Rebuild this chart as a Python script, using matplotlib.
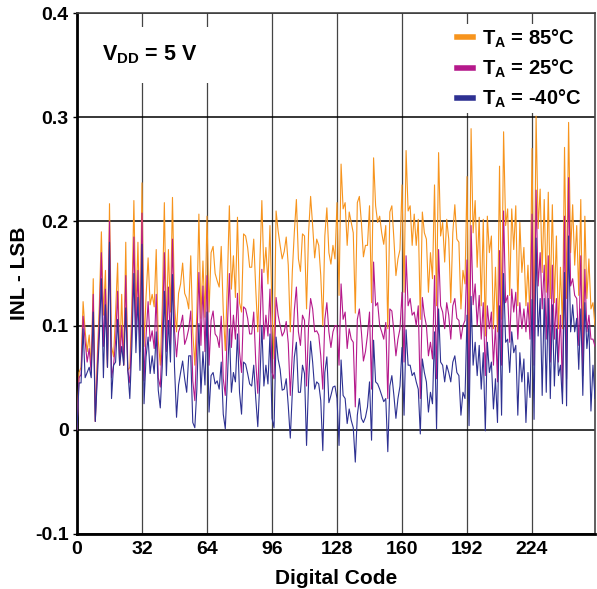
import numpy as np
import matplotlib
matplotlib.use("Agg")
import matplotlib.pyplot as plt
from matplotlib.lines import Line2D

# INL readings in milli-LSB, one value per code (0..255)
inl_85c = [
    0, 55, 60, 123, 95, 75, 91, 60, 145, 8,
    70, 120, 190, 110, 153, 60, 217, 80, 70, 113,
    160, 62, 130, 62, 180, 57, 60, 120, 220, 110,
    180, 90, 237, 80, 128, 165, 120, 130, 118, 173,
    86, 62, 120, 218, 97, 173, 113, 223, 120, 94,
    131, 140, 160, 131, 126, 116, 167, 94, 62, 113,
    207, 107, 162, 108, 205, 113, 170, 176, 150, 143,
    137, 176, 114, 76, 140, 215, 135, 167, 127, 204,
    122, 113, 188, 186, 175, 156, 156, 183, 135, 94,
    159, 220, 151, 175, 140, 196, 113, 68, 210, 191,
    177, 164, 171, 185, 158, 94, 152, 190, 221, 164,
    152, 188, 186, 116, 189, 224, 196, 165, 183, 177,
    148, 100, 186, 213, 170, 159, 177, 164, 218, 129,
    255, 212, 218, 177, 209, 199, 189, 112, 218, 224,
    199, 166, 177, 177, 215, 122, 261, 215, 199, 205,
    189, 178, 196, 97, 209, 215, 183, 148, 164, 173,
    235, 132, 268, 210, 215, 177, 207, 177, 202, 106,
    209, 189, 183, 132, 170, 145, 235, 119, 266, 186,
    199, 161, 202, 183, 122, 189, 216, 183, 180, 116,
    153, 140, 243, 65, 289, 189, 220, 156, 204, 119,
    202, 90, 205, 170, 186, 97, 156, 94, 253, 106,
    286, 196, 212, 129, 212, 173, 215, 119, 199, 151,
    175, 119, 158, 106, 270, 97, 301, 193, 231, 151,
    221, 132, 228, 126, 216, 122, 186, 97, 156, 97,
    271, 126, 295, 170, 216, 158, 196, 129, 221, 74,
    205, 126, 164, 116, 122, 100,
]

inl_25c = [
    0, 50, 53, 109, 85, 65, 78, 55, 130, 8,
    60, 105, 170, 80, 135, 60, 200, 50, 62, 85,
    133, 62, 100, 62, 148, 57, 45, 100, 185, 90,
    153, 75, 208, 47, 90, 123, 85, 95, 78, 130,
    50, 41, 88, 170, 75, 137, 81, 183, 95, 70,
    94, 100, 110, 82, 88, 97, 114, 47, 28, 84,
    151, 81, 138, 75, 148, 62, 105, 114, 92, 89,
    79, 109, 49, 33, 97, 150, 79, 110, 87, 131,
    75, 55, 118, 116, 107, 92, 92, 113, 65, 35,
    94, 154, 87, 110, 90, 135, 55, 49, 127, 110,
    100, 90, 94, 104, 83, 33, 75, 115, 137, 94,
    81, 110, 105, 42, 100, 126, 116, 94, 95, 91,
    71, 39, 106, 122, 94, 79, 94, 100, 100, 62,
    140, 106, 113, 78, 97, 87, 84, 22, 106, 116,
    94, 66, 75, 91, 113, 39, 161, 119, 122, 100,
    94, 87, 103, 30, 116, 114, 94, 71, 87, 97,
    132, 65, 167, 119, 126, 110, 113, 100, 119, 30,
    127, 110, 100, 71, 84, 68, 148, 49, 173, 119,
    113, 97, 122, 110, 87, 119, 126, 107, 105, 87,
    100, 105, 163, 30, 196, 120, 140, 100, 129, 87,
    122, 52, 119, 97, 113, 62, 100, 46, 172, 62,
    210, 122, 129, 84, 135, 113, 132, 87, 122, 97,
    116, 94, 122, 87, 207, 62, 230, 138, 170, 116,
    158, 87, 167, 65, 158, 87, 126, 65, 110, 36,
    205, 49, 242, 138, 145, 129, 126, 81, 167, 52,
    154, 94, 110, 87, 87, 80,
]

inl_m40c = [
    0, 45, 45, 97, 50, 55, 60, 50, 113, 8,
    50, 90, 145, 50, 120, 60, 180, 30, 62, 65,
    106, 62, 80, 62, 117, 57, 30, 80, 150, 74,
    127, 57, 178, 25, 70, 89, 54, 71, 54, 94,
    38, 21, 62, 133, 52, 105, 65, 149, 60, 12,
    43, 55, 66, 49, 36, 71, 71, 7, 2, 39,
    102, 35, 75, 43, 113, 17, 52, 55, 44, 47,
    39, 65, 15, 1, 46, 97, 36, 55, 46, 92,
    36, 15, 65, 63, 54, 44, 42, 62, 30, 3,
    46, 100, 42, 62, 44, 92, 11, 2, 89, 68,
    58, 38, 39, 49, 23, -8, 36, 70, 84, 36,
    36, 62, 54, -15, 46, 85, 65, 39, 46, 44,
    28, -20, 55, 70, 26, 33, 41, 42, 30, -15,
    67, 33, 30, 6, 20, 9, 2, -31, 14, 30,
    11, 7, 12, 22, 46, -10, 86, 46, 44, 39,
    33, 27, 30, -21, 42, 52, 33, 11, 30, 42,
    79, 14, 96, 62, 62, 52, 55, 46, 39, -4,
    68, 55, 46, 17, 36, 25, 94, 1, 116, 65,
    62, 46, 62, 55, 46, 65, 71, 55, 52, 14,
    36, 30, 110, 4, 128, 62, 84, 52, 81, 39,
    74, -1, 84, 55, 65, 20, 49, 7, 119, 14,
    150, 84, 87, 55, 94, 74, 81, 14, 74, 46,
    68, 7, 55, 31, 125, 10, 184, 90, 126, 33,
    126, 36, 126, 30, 120, 42, 97, 52, 62, 25,
    151, 23, 186, 94, 120, 94, 107, 58, 116, 33,
    122, 78, 100, 18, 62, 30,
]

series_labels = ["85°C", "25°C", "-40°C"]
x_ticks = [0, 32, 64, 96, 128, 160, 192, 224]
y_ticks = [-0.1, 0, 0.1, 0.2, 0.3, 0.4]
y_tick_labels = ["-0.1", "0", "0.1", "0.2", "0.3", "0.4"]

colors = ["#F7941D", "#B5198B", "#2E3192"]

plt.rcParams["font.family"] = ["Liberation Sans", "DejaVu Sans"]
plt.rcParams["font.weight"] = "bold"
plt.rcParams["mathtext.fontset"] = "custom"
plt.rcParams["mathtext.rm"] = "Liberation Sans:bold"
plt.rcParams["mathtext.it"] = "Liberation Sans:bold"
plt.rcParams["mathtext.bf"] = "Liberation Sans:bold"
plt.rcParams["mathtext.default"] = "rm"

fig = plt.figure(figsize=(5.97, 5.89), dpi=100)
ax = fig.add_axes([77 / 597, 55 / 589, 518 / 597, 521 / 589])

codes = np.arange(len(inl_85c))
for values, color in zip([inl_85c, inl_25c, inl_m40c], colors):
    ax.plot(codes, np.array(values) / 1000.0, color=color, lw=0.8, zorder=3)

ax.set_xlim(0, 255)
ax.set_ylim(-0.1, 0.4)
ax.set_xticks(x_ticks)
ax.set_yticks(y_ticks)
ax.set_yticklabels(y_tick_labels)
ax.tick_params(axis="both", labelsize=14, length=3, width=1, pad=3)
ax.tick_params(axis="x", length=0, pad=5)

# grid: black horizontal, grey vertical
ax.yaxis.grid(True, color="black", lw=1.1, zorder=1)
ax.xaxis.grid(True, color="#444444", lw=0.9, zorder=1)
ax.set_axisbelow(True)

for side in ["left", "bottom"]:
    ax.spines[side].set_linewidth(2)
    ax.spines[side].set_color("black")
for side in ["top", "right"]:
    ax.spines[side].set_linewidth(1.2)
    ax.spines[side].set_color("#444444")

ax.set_xlabel("Digital Code", fontsize=15, fontweight="bold", labelpad=8)
ax.set_ylabel("INL - LSB", fontsize=15, fontweight="bold", labelpad=4)

# supply voltage note
ax.text(12.5, 0.36, r"$V_{DD}$ = 5 V", fontsize=15.5, fontweight="bold",
        va="center", ha="left", zorder=5,
        bbox=dict(facecolor="white", edgecolor="none", pad=12))

handles = [Line2D([], [], color=c, lw=4) for c in colors]
labels = [r"$T_A$ = " + t for t in series_labels]
leg = ax.legend(handles, labels, loc="upper right", bbox_to_anchor=(0.99, 0.988),
                borderaxespad=0.25, fontsize=14.5, handlelength=0.8,
                handletextpad=0.45, labelspacing=0.4, borderpad=0.15,
                frameon=True, fancybox=False, framealpha=1, edgecolor="none")
leg.set_zorder(6)

fig.savefig("out.png", dpi=100, facecolor="white")
